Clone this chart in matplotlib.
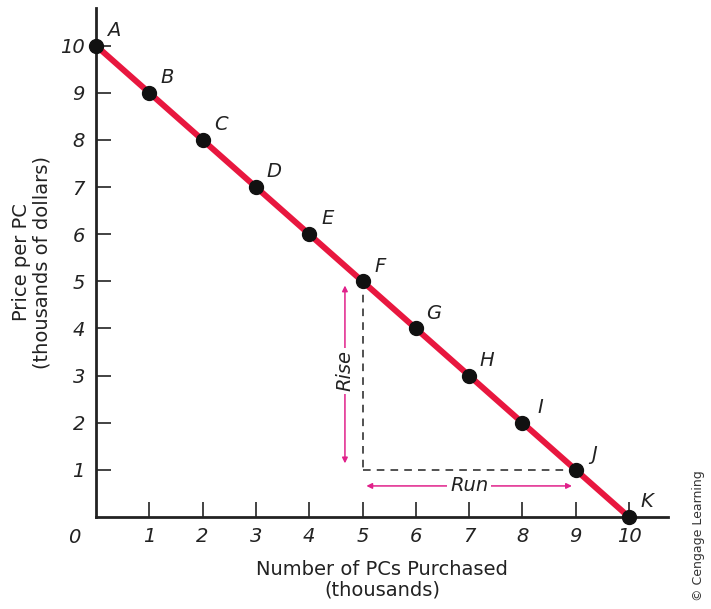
import matplotlib.pyplot as plt

# data
quantity = [0, 1, 2, 3, 4, 5, 6, 7, 8, 9, 10]
price = [10, 9, 8, 7, 6, 5, 4, 3, 2, 1, 0]
point_names = ["A", "B", "C", "D", "E", "F", "G", "H", "I", "J", "K"]
tick_values = [1, 2, 3, 4, 5, 6, 7, 8, 9, 10]
tick_labels = ["1", "2", "3", "4", "5", "6", "7", "8", "9", "10"]
rise_x, rise_y0, rise_y1 = 4.67, 1.08, 4.97
run_y, run_x0, run_x1 = 0.66, 5.02, 8.98

RED = "#e8173f"
PINK = "#e0218a"

plt.rcParams['font.family'] = ['DejaVu Sans']

fig = plt.figure(figsize=(7.11, 6.09), dpi=100)
ax = fig.add_axes([0.135, 0.151, 0.8045, 0.836])

ax.plot(quantity, price, color=RED, lw=4.3, solid_capstyle="butt", zorder=3)
ax.plot(quantity, price, "o", color="#111111", ms=10, zorder=4, clip_on=False)

for q, p, name in zip(quantity, price, point_names):
    ax.annotate(name, (q, p), xytext=(13, 11), textcoords="offset points",
                ha="center", va="center", fontsize=14, style="italic", color="#222222")

# slope triangle
ax.plot([5, 5], [5, 1], "--", color="#222222", lw=1.1, dashes=(5, 4))
ax.plot([5, 9], [1, 1], "--", color="#222222", lw=1.1, dashes=(5, 4))

ax.annotate("", xy=(rise_x, rise_y1), xytext=(rise_x, rise_y0),
            arrowprops=dict(arrowstyle="<|-|>", color=PINK, lw=1.1, mutation_scale=8))
ax.text(rise_x, 3.1, "Rise", rotation=90, ha="center", va="center", fontsize=14,
        style="italic", color="#222222",
        bbox=dict(facecolor="white", edgecolor="none", pad=2))
ax.annotate("", xy=(run_x1, run_y), xytext=(run_x0, run_y),
            arrowprops=dict(arrowstyle="<|-|>", color=PINK, lw=1.1, mutation_scale=8))
ax.text(7.0, run_y, "Run", ha="center", va="center", fontsize=14,
        style="italic", color="#222222",
        bbox=dict(facecolor="white", edgecolor="none", pad=2))

ax.set_xlim(0, 10.73)
ax.set_ylim(0, 10.8)
ax.spines["top"].set_visible(False)
ax.spines["right"].set_visible(False)
for s in ["left", "bottom"]:
    ax.spines[s].set_linewidth(2)
    ax.spines[s].set_color("#222222")

ax.set_xticks(tick_values)
ax.set_xticklabels(tick_labels, fontsize=14, style="italic", color="#222222")
ax.set_yticks(tick_values)
ax.set_yticklabels(tick_labels, fontsize=14, style="italic", color="#222222")
ax.tick_params(axis="both", direction="in", length=11, width=1.2, color="#222222")
ax.tick_params(axis="x", pad=7)
ax.tick_params(axis="y", pad=8)
ax.text(-0.4, -0.43, "0", ha="center", va="center", fontsize=14, style="italic",
        color="#222222")

ax.set_xlabel("Number of PCs Purchased\n(thousands)", fontsize=14, color="#222222",
              labelpad=10, linespacing=1.1)
ax.set_ylabel("Price per PC\n(thousands of dollars)", fontsize=14, color="#222222",
              labelpad=6, linespacing=1.1)

fig.text(0.983, 0.12, "\u00a9 Cengage Learning", rotation=90, ha="center", va="center",
         fontsize=9, color="#333333")

fig.savefig("out.png", dpi=100)
